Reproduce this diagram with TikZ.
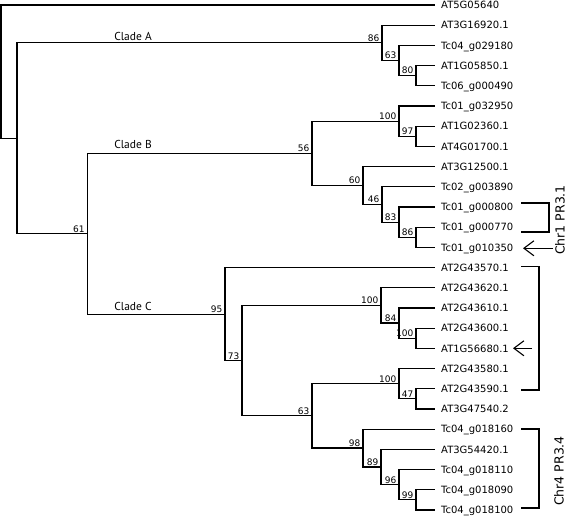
\documentclass[tikz,border=0pt]{standalone}
\usepackage{fontspec}
\setmainfont{DejaVu Sans}
\newfontfamily\cladefont{PT Sans}
\usetikzlibrary{arrows.meta}

\begin{document}
\begin{tikzpicture}[x=1pt,y=-1pt]
  % Local definitions
  \def\leafx{434}
  \def\rowsep{20.2}

  % Styles
  \tikzstyle{branch}=[line width=1.1pt,line cap=rect]
  \tikzstyle{leaf}=[anchor=west,inner xsep=7pt,inner ysep=0pt,text height=7.3pt,text depth=0pt,font=\fontsize{10}{12}\selectfont]
  \tikzstyle{support}=[anchor=south east,inner xsep=2.5pt,inner ysep=1.5pt,text height=6.6pt,text depth=0pt,font=\fontsize{9}{10}\selectfont]
  \tikzstyle{clade}=[font=\cladefont\fontsize{11.5}{13}\selectfont]
  \tikzstyle{chr}=[rotate=90,inner sep=0pt,font=\fontsize{12.5}{14}\selectfont]
  \tikzstyle{bracket}=[line width=1.1pt]
  \tikzstyle{pointer}=[line width=1.1pt,-{Straight Barb[length=10pt,width=15pt]}]

  \useasboundingbox (0,0) rectangle (567,516);

  % The leaves
  \foreach \i/\name in {0/AT5G05640, 1/AT3G16920.1, 2/Tc04\_g029180, 3/AT1G05850.1,
      4/Tc06\_g000490, 5/Tc01\_g032950, 6/AT1G02360.1, 7/AT4G01700.1,
      8/AT3G12500.1, 9/Tc02\_g003890, 10/Tc01\_g000800, 11/Tc01\_g000770,
      12/Tc01\_g010350, 13/AT2G43570.1, 14/AT2G43620.1, 15/AT2G43610.1,
      16/AT2G43600.1, 17/AT1G56680.1, 18/AT2G43580.1, 19/AT2G43590.1,
      20/AT3G47540.2, 21/Tc04\_g018160, 22/AT3G54420.1, 23/Tc04\_g018110,
      24/Tc04\_g018090, 25/Tc04\_g018100}
    \node[leaf] (l\i) at (\leafx, {5+\rowsep*\i}) {\name};

  % Inner nodes
  \coordinate (root) at (1,71.7);
  \coordinate (n0) at (17,138.3);
  \coordinate (cA) at (382,42.9);
  \coordinate (a63) at (399,60.5);
  \coordinate (a80) at (416,75.7);
  \coordinate (n61) at (87.3,233.8);
  \coordinate (b56) at (312,153.4);
  \coordinate (b100) at (399,121.2);
  \coordinate (b97) at (416,136.3);
  \coordinate (b60) at (363,185.5);
  \coordinate (b46) at (382,204.5);
  \coordinate (b83) at (399,222.1);
  \coordinate (b86) at (416,237.3);
  \coordinate (c95) at (225,314.2);
  \coordinate (c73) at (242,360.7);
  \coordinate (c100) at (381,305.5);
  \coordinate (c84) at (399,323);
  \coordinate (c100b) at (416,338.3);
  \coordinate (c63) at (312,415.9);
  \coordinate (c100c) at (399,383.7);
  \coordinate (c47) at (416,398.9);
  \coordinate (c98) at (363,448);
  \coordinate (c89) at (381,467);
  \coordinate (c96) at (399,484.7);
  \coordinate (c99) at (416,499.9);

  % Branches
  \foreach \p/\c in {root/l0.west, root/n0, n0/cA, n0/n61,
      cA/l1.west, cA/a63, a63/l2.west, a63/a80, a80/l3.west, a80/l4.west,
      n61/b56, n61/c95, b56/b100, b56/b60, b100/l5.west, b100/b97,
      b97/l6.west, b97/l7.west, b60/l8.west, b60/b46, b46/l9.west, b46/b83,
      b83/l10.west, b83/b86, b86/l11.west, b86/l12.west,
      c95/l13.west, c95/c73, c73/c100, c73/c63, c100/l14.west, c100/c84,
      c84/l15.west, c84/c100b, c100b/l16.west, c100b/l17.west,
      c63/c100c, c63/c98, c100c/l18.west, c100c/c47, c47/l19.west, c47/l20.west,
      c98/l21.west, c98/c89, c89/l22.west, c89/c96, c96/l23.west, c96/c99,
      c99/l24.west, c99/l25.west}
    \draw[branch] (\p) |- (\c);

  % Bootstrap values
  \foreach \n/\v in {cA/86, a63/63, a80/80, n61/61, b56/56, b100/100, b97/97,
      b60/60, b46/46, b83/83, b86/86, c95/95, c73/73, c100/100, c84/84,
      c100b/100, c63/63, c100c/100, c47/47, c98/98, c89/89, c96/96, c99/99}
    \node[support] (s-\n) at (\n) {\v};

  % Clades
  \node[clade] (cladeA) at (133,36) {Clade A};
  \node[clade] (cladeB) at (133,144.5) {Clade B};
  \node[clade] (cladeC) at (133,306.5) {Clade C};

  % Chromosome groups
  \draw[bracket] (521,203) -| (549,232) -- (521,232);
  \draw[bracket] (521,266.7) -| (539,390) -- (521,390);
  \draw[bracket] (521,429) -| (539,508) -- (521,508);
  \draw[pointer] (553,248.3) -- (523,248.3);
  \draw[pointer] (532,348.3) -- (513,348.3);
  \node[chr] (chr1) at (560,220) {Chr1 PR3.1};
  \node[chr] (chr4) at (559,471) {Chr4 PR3.4};
\end{tikzpicture}
\end{document}
